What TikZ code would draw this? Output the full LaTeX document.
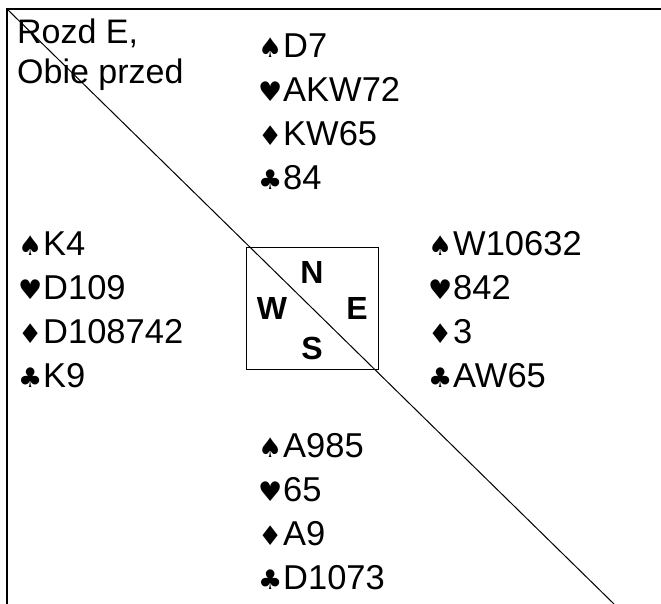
\documentclass[tikz,border=0pt]{standalone}
\usepackage{fontspec}
\setmainfont{Liberation Sans}
\newfontfamily\suitfont{DejaVu Sans}
\usepackage{tikz}
\usetikzlibrary{positioning}

\newcommand{\suit}[1]{\makebox[25pt][l]{\suitfont\fontsize{27}{27}\selectfont #1}}
\newcommand{\sS}{\suit{♠}}
\newcommand{\sH}{\suit{♥}}
\newcommand{\sD}{\suit{♦}}
\newcommand{\sC}{\suit{♣}}

\begin{document}
\begin{tikzpicture}[
  x=1pt, y=-1pt,
  hand/.style={inner sep=0pt, text height=24pt, text depth=0pt, anchor=north west, font=\fontsize{34.5}{40}\selectfont},
  info/.style={inner sep=0pt, anchor=north west, align=left, font=\fontsize{34}{40}\selectfont},
  seat/.style={inner sep=0pt, font=\fontsize{32}{32}\selectfont\bfseries},
  board/.style={rectangle, draw, line width=1pt, minimum width=132pt, minimum height=122pt, inner sep=0pt},
  frame/.style={line width=1.3pt},
]
\useasboundingbox (0,0) rectangle (661,604);

% Frame and diagonal
\coordinate (tl) at (7,9);
\coordinate (tr) at (661,9);
\coordinate (bl) at (7,604);
\coordinate (br) at (614,604);
\draw[frame] (tr) -- (tl) -- (bl);
\draw[line width=1pt] (tl) -- (br);

% Deal info
\node[info] (deal) at (17,19) {Rozd E,\\Obie przed};

% Table
\node[board] (table) at (312,308) {};
\node[seat] (sn) at (312,272) {N};
\node[seat] (sw) at (272,308) {W};
\node[seat] (se) at (357,308) {E};
\node[seat] (ss) at (312,348) {S};

% North
\node[hand] (n1) at (258,33) {\sS D7};
\node[hand, below=19.7pt of n1.south west, anchor=north west] (n2) {\sH AKW72};
\node[hand, below=19.7pt of n2.south west, anchor=north west] (n3) {\sD KW65};
\node[hand, below=19.7pt of n3.south west, anchor=north west] (n4) {\sC 84};

% West
\node[hand] (w1) at (18,231) {\sS K4};
\node[hand, below=19.7pt of w1.south west, anchor=north west] (w2) {\sH D109};
\node[hand, below=19.7pt of w2.south west, anchor=north west] (w3) {\sD D108742};
\node[hand, below=19.7pt of w3.south west, anchor=north west] (w4) {\sC K9};

% East
\node[hand] (e1) at (428,231) {\sS W10632};
\node[hand, below=19.7pt of e1.south west, anchor=north west] (e2) {\sH 842};
\node[hand, below=19.7pt of e2.south west, anchor=north west] (e3) {\sD 3};
\node[hand, below=19.7pt of e3.south west, anchor=north west] (e4) {\sC AW65};

% South
\node[hand] (s1) at (258,433) {\sS A985};
\node[hand, below=19.7pt of s1.south west, anchor=north west] (s2) {\sH 65};
\node[hand, below=19.7pt of s2.south west, anchor=north west] (s3) {\sD A9};
\node[hand, below=19.7pt of s3.south west, anchor=north west] (s4) {\sC D1073};
\end{tikzpicture}
\end{document}
